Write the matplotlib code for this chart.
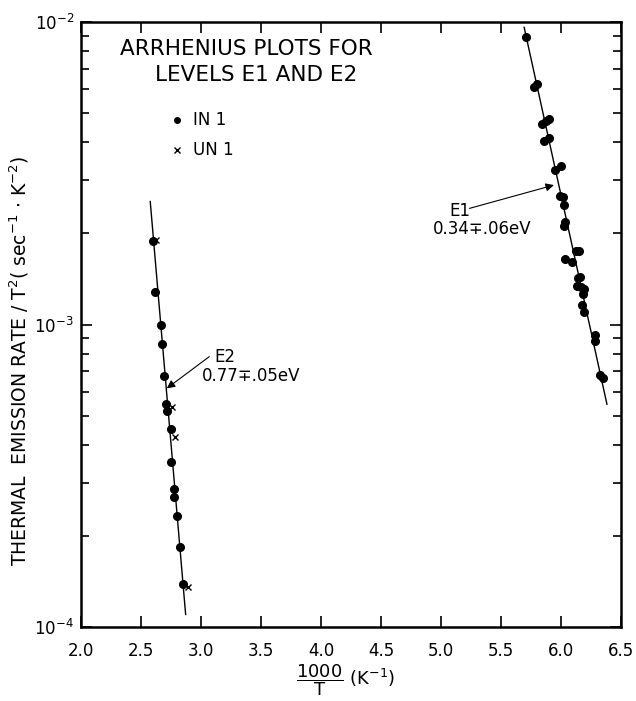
import matplotlib
matplotlib.use('Agg')
import matplotlib.pyplot as plt
from matplotlib.ticker import LogLocator, NullFormatter

plt.rcParams['font.family'] = ['DejaVu Sans']
plt.rcParams['mathtext.default'] = 'regular'

# level E2 (IN 1 filled dots)
e2_x = [2.599, 2.619, 2.663, 2.677, 2.693, 2.707, 2.715, 2.746, 2.751, 2.773, 2.779, 2.801, 2.826, 2.848]
e2_y = [1.89e-3, 1.28e-3, 9.96e-4, 8.63e-4, 6.78e-4, 5.47e-4, 5.19e-4, 4.50e-4, 3.51e-4,
        2.86e-4, 2.68e-4, 2.33e-4, 1.84e-4, 1.39e-4]
# level E2 (UN 1 crosses)
e2u_x = [2.627, 2.756, 2.781, 2.895]
e2u_y = [1.90e-3, 5.35e-4, 4.26e-4, 1.36e-4]
# level E1 (IN 1 filled dots)
e1_x = [5.712, 5.775, 5.803, 5.838, 5.872, 5.900, 5.858, 5.900, 5.946, 6.002, 5.991, 6.018,
        6.024, 6.037, 6.029, 6.123, 6.148, 6.037, 6.090, 6.145, 6.162, 6.134, 6.167, 6.190,
        6.184, 6.176, 6.190, 6.281, 6.281, 6.327, 6.350]
e1_y = [8.9e-3, 6.1e-3, 6.23e-3, 4.59e-3, 4.71e-3, 4.78e-3, 4.05e-3, 4.12e-3, 3.25e-3, 3.33e-3,
        2.65e-3, 2.63e-3, 2.49e-3, 2.18e-3, 2.11e-3, 1.75e-3, 1.75e-3, 1.65e-3, 1.61e-3,
        1.42e-3, 1.44e-3, 1.34e-3, 1.33e-3, 1.31e-3, 1.26e-3, 1.16e-3, 1.10e-3, 9.2e-4,
        8.8e-4, 6.83e-4, 6.65e-4]
# fitted lines (end points)
fit_e2_x = [2.577, 2.872]
fit_e2_y = [2.55e-3, 1.10e-4]
fit_e1_x = [5.693, 6.383]
fit_e1_y = [9.6e-3, 5.45e-4]

xticks = [2.0, 2.5, 3.0, 3.5, 4.0, 4.5, 5.0, 5.5, 6.0, 6.5]
xticklabels = ['2.0', '2.5', '3.0', '3.5', '4.0', '4.5', '5.0', '5.5', '6.0', '6.5']

fig = plt.figure(figsize=(6.36, 7.01), dpi=100)
ax = fig.add_axes([81 / 636, 1 - 627 / 701, 540 / 636, 605 / 701])

ax.plot(fit_e2_x, fit_e2_y, color='black', lw=1.0)
ax.plot(fit_e1_x, fit_e1_y, color='black', lw=1.0)
ax.plot(e2_x, e2_y, 'o', color='black', ms=5.5)
ax.plot(e1_x, e1_y, 'o', color='black', ms=5.5)
ax.plot(e2u_x, e2u_y, 'x', color='black', ms=4, mew=1)

ax.set_yscale('log')
ax.set_xlim(2.0, 6.5)
ax.set_ylim(1e-4, 1e-2)
ax.set_xticks(xticks)
ax.set_xticklabels(xticklabels)
ax.yaxis.set_major_locator(LogLocator(base=10, numticks=5))
ax.yaxis.set_minor_locator(LogLocator(base=10, subs=range(2, 10), numticks=20))
ax.yaxis.set_minor_formatter(NullFormatter())
ax.tick_params(which='both', direction='in', top=True, right=True, labelsize=12, width=1.2)
ax.tick_params(which='major', length=8)
ax.tick_params(which='minor', length=6)
ax.tick_params(axis='x', pad=11)
ax.tick_params(axis='y', pad=5)
for s in ax.spines.values():
    s.set_linewidth(1.8)

ax.set_xlabel(r'$\dfrac{1000}{T}$ (K$^{-1}$)', fontsize=13, va='top')
ax.xaxis.set_label_coords(0.49, -0.058)
ax.set_ylabel(r'THERMAL  EMISSION RATE / T$^2$( sec$^{-1}$ $\cdot$ K$^{-2}$)', fontsize=13.5)
ax.yaxis.set_label_coords(-0.092, 0.44)

ax.text(0.072, 0.955, 'ARRHENIUS PLOTS FOR', transform=ax.transAxes, ha='left', va='center', fontsize=15.5)
ax.text(0.137, 0.912, 'LEVELS E1 AND E2', transform=ax.transAxes, ha='left', va='center', fontsize=15.5)

# legend drawn by hand
ax.plot([0.178], [0.838], 'o', color='black', ms=4, transform=ax.transAxes)
ax.text(0.207, 0.838, 'IN 1', transform=ax.transAxes, va='center', fontsize=12)
ax.plot([0.178], [0.789], 'x', color='black', ms=4, mew=1, transform=ax.transAxes)
ax.text(0.207, 0.789, 'UN 1', transform=ax.transAxes, va='center', fontsize=12)

arrow = dict(arrowstyle='-|>', color='black', lw=0.8, mutation_scale=12, shrinkA=0, shrinkB=0)
ax.annotate('', xy=(2.715, 6.15e-4), xytext=(3.069, 7.83e-4), arrowprops=arrow)
ax.text(3.11, 7.83e-4, 'E2', fontsize=12, va='center')
ax.text(3.011, 6.78e-4, '0.77\u2213.05eV', fontsize=12, va='center')

ax.annotate('', xy=(5.941, 2.89e-3), xytext=(5.237, 2.42e-3), arrowprops=arrow)
ax.text(5.071, 2.38e-3, 'E1', fontsize=12, va='center')
ax.text(4.933, 2.07e-3, '0.34\u2213.06eV', fontsize=12, va='center')

fig.savefig('out.png', dpi=100)
